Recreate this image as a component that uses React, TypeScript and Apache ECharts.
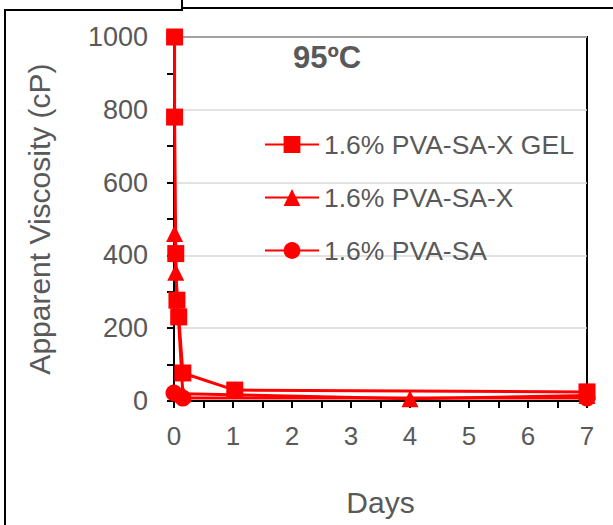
import React, { useEffect, useRef } from "react";
import * as echarts from "echarts";

const seriesNames = ["1.6% PVA-SA-X GEL", "1.6% PVA-SA-X", "1.6% PVA-SA"];
const gelDays = [0.01, 0.01, 0.03, 0.05, 0.08, 0.15, 1.03, 7];
const gelVisc = [1000, 780, 405, 277, 231, 77, 30, 25];
const xDays = [0.01, 0.03, 0.15, 4, 7];
const xVisc = [460, 354, 20, 6, 15];
const saDays = [0, 0.15, 7];
const saVisc = [22, 8, 8];
const titleText = "95ºC";
const xAxisTitle = "Days";
const yAxisTitle = "Apparent Viscosity (cP)";

const zip = (a: number[], b: number[]) => a.map((v, i) => [v, b[i]]);

export default function App() {
  const ref = useRef<HTMLDivElement>(null);
  useEffect(() => {
    document.body.style.margin = "0";
    const chart = echarts.init(ref.current!, null, { renderer: "svg" });
    const font = "Liberation Sans, Arial, sans-serif";
    const lineCommon = (name: string, data: number[][], symbol: string) => ({
      name,
      type: "line",
      data,
      symbol,
      symbolSize: 17,
      showSymbol: true,
      lineStyle: { color: "#ff0000", width: 3 },
      itemStyle: { color: "#ff0000" },
    });
    chart.setOption({
      animation: false,
      backgroundColor: "#ffffff",
      grid: {
        left: 174,
        right: 26,
        top: 37,
        bottom: 124,
        show: true,
        borderColor: "#000",
        borderWidth: 2,
        backgroundColor: "transparent",
      },
      legend: {
        orient: "vertical",
        left: 264,
        top: 131,
        padding: 0,
        itemWidth: 54,
        itemHeight: 21,
        itemGap: 26,
        data: seriesNames,
        textStyle: { fontFamily: font, fontSize: 26.5, color: "#595959", lineHeight: 22 },
      },
      xAxis: {
        type: "value",
        min: 0,
        max: 7,
        interval: 1,
        name: xAxisTitle,
        nameLocation: "middle",
        nameGap: 86,
        nameTextStyle: { fontFamily: font, fontSize: 30, color: "#595959" },
        axisLine: { show: true, lineStyle: { color: "#000", width: 2 } },
        axisTick: { show: true, length: 7, lineStyle: { color: "#000", width: 2 } },
        minorTick: { show: true, splitNumber: 2, length: 7, lineStyle: { color: "#000", width: 2 } },
        splitLine: { show: false },
        axisLabel: { fontFamily: font, fontSize: 26, color: "#595959", margin: 22 },
      },
      yAxis: {
        type: "value",
        min: 0,
        max: 1000,
        interval: 200,
        name: yAxisTitle,
        nameLocation: "middle",
        nameGap: 120,
        nameTextStyle: { fontFamily: font, fontSize: 30, color: "#595959" },
        axisLine: { show: true, lineStyle: { color: "#000", width: 2 } },
        axisTick: { show: true, length: 7, lineStyle: { color: "#000", width: 2 } },
        minorTick: { show: true, splitNumber: 2, length: 7, lineStyle: { color: "#000", width: 2 } },
        splitLine: { show: true, lineStyle: { color: "#d9d9d9", width: 1.5 } },
        axisLabel: {
          fontFamily: font,
          fontSize: 27,
          color: "#595959",
          margin: 26,
          formatter: (v: number) => String(v),
        },
      },
      graphic: [
        {
          type: "text",
          x: 327,
          y: 57,
          style: {
            text: titleText,
            fontFamily: font,
            fontSize: 31,
            fontWeight: "bold",
            fill: "#595959",
            textAlign: "center",
            textVerticalAlign: "middle",
          },
        },
        { type: "line", shape: { x1: 5, y1: 10, x2: 5, y2: 525 }, style: { stroke: "#000", lineWidth: 2 } },
        { type: "line", shape: { x1: 4, y1: 10, x2: 183, y2: 10 }, style: { stroke: "#000", lineWidth: 2 } },
        { type: "line", shape: { x1: 182, y1: 0, x2: 182, y2: 10 }, style: { stroke: "#000", lineWidth: 2 } },
        { type: "line", shape: { x1: 182, y1: 8, x2: 613, y2: 8 }, style: { stroke: "#000", lineWidth: 2 } },
      ],
      series: [
        lineCommon(seriesNames[2], zip(saDays, saVisc), "circle"),
        lineCommon(seriesNames[1], zip(xDays, xVisc), "triangle"),
        lineCommon(seriesNames[0], zip(gelDays, gelVisc), "rect"),
      ],
    });
    return () => chart.dispose();
  }, []);
  return (
    <div
      ref={ref}
      style={{ position: "absolute", left: 0, top: 0, width: 613, height: 525 }}
    />
  );
}
